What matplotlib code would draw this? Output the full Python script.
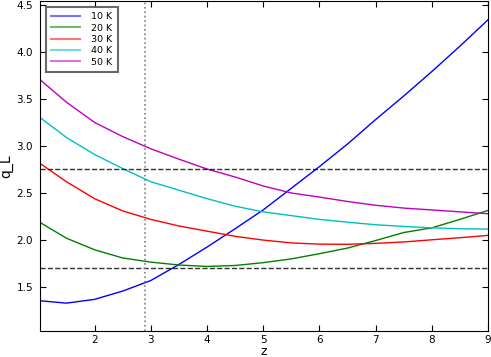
import matplotlib
matplotlib.use("Agg")
import matplotlib.pyplot as plt

z = [1.0, 1.5, 2.0, 2.5, 3.0, 3.5, 4.0, 4.5, 5.0, 5.5, 6.0, 6.5, 7.0, 7.5, 8.0, 8.5, 9.0]

q_10K = [1.357, 1.33, 1.37, 1.458, 1.57, 1.74, 1.925, 2.12, 2.32, 2.55, 2.78,
         3.02, 3.28, 3.53, 3.79, 4.06, 4.34]
q_20K = [2.198, 2.02, 1.897, 1.81, 1.766, 1.735, 1.72, 1.73, 1.76, 1.80, 1.855,
         1.915, 1.995, 2.08, 2.13, 2.22, 2.315]
q_30K = [2.827, 2.62, 2.44, 2.31, 2.22, 2.15, 2.095, 2.04, 2.0, 1.97, 1.957,
         1.955, 1.965, 1.98, 2.003, 2.025, 2.05]
q_40K = [3.316, 3.09, 2.91, 2.76, 2.62, 2.53, 2.44, 2.36, 2.30, 2.26, 2.22,
         2.19, 2.163, 2.145, 2.13, 2.12, 2.117]
q_50K = [3.72, 3.465, 3.25, 3.10, 2.97, 2.86, 2.755, 2.67, 2.575, 2.50, 2.457,
         2.41, 2.37, 2.34, 2.32, 2.30, 2.28]

series = [("10 K", q_10K, "blue"), ("20 K", q_20K, "green"),
          ("30 K", q_30K, "red"), ("40 K", q_40K, "c"), ("50 K", q_50K, "m")]

upper_level = 2.755
lower_level = 1.708
z_mark = 2.89

fig = plt.figure(figsize=(4.91, 3.57), dpi=100)
ax = fig.add_axes([40 / 491, 26 / 357, 448 / 491, 330 / 357])

for label, q, color in series:
    ax.plot(z, q, color=color, linewidth=1, label=label)

ax.axhline(upper_level, color="black", linestyle="--", linewidth=1, alpha=0.8)
ax.axhline(lower_level, color="black", linestyle="--", linewidth=1, alpha=0.8)
ax.axvline(z_mark, color="gray", linestyle=":", linewidth=1.2)

ax.set_xlim(1.03, 9.0)
ax.set_ylim(1.034, 4.54)
ax.set_xticks([2, 3, 4, 5, 6, 7, 8, 9])
ax.set_yticks([1.5, 2.0, 2.5, 3.0, 3.5, 4.0, 4.5])
ax.tick_params(axis="both", direction="in", top=True, right=True,
               labelsize=7.5, length=4)
ax.tick_params(axis="x", pad=3)
ax.tick_params(axis="y", pad=5)
ax.set_xlabel("z", fontsize=9, labelpad=0)
ax.set_ylabel("q_L", fontsize=10, labelpad=2)

leg = ax.legend(loc="upper left", fontsize=6.8, handlelength=3.0,
                fancybox=False, borderpad=0.6, labelspacing=0.25,
                borderaxespad=0.6, handletextpad=1.2)
leg.get_frame().set_edgecolor("#444444")
leg.get_frame().set_linewidth(1.5)
for line in leg.get_lines():
    line.set_alpha(0.55)
    line.set_linewidth(1.5)

fig.savefig("out.png", dpi=100)
